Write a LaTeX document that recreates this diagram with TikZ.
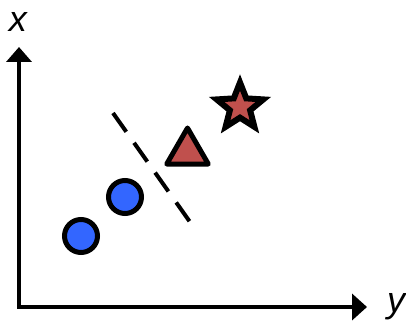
\documentclass[tikz,border=0pt]{standalone}
\definecolor{dotblue}{RGB}{51, 102, 255}
\definecolor{markred}{RGB}{192, 80, 77}
\usepackage{fontspec}
\setmainfont{Liberation Sans}
\usepackage{tikz}
\usetikzlibrary{arrows.meta, positioning, shapes.geometric}

\tikzset{
  sample/.style={circle, fill=dotblue, draw=black, line width=5pt,
                 minimum size=33pt, inner sep=0pt},
  axislabel/.style={anchor=base, inner sep=0pt, font=\fontsize{36}{40}\selectfont\itshape}
}

\begin{document}
\begin{tikzpicture}[x=1pt, y=-1pt]
    \useasboundingbox (0,0) rectangle (406,323);
    % axes
    \coordinate (origin) at (19,307);
    \coordinate (xtip) at (19,47);
    \coordinate (ytip) at (367,307);
    \draw[line width=4pt, {Triangle[width=25pt,length=15pt]}-{Triangle[width=26pt,length=15pt]}]
        (xtip) -- (origin) -- (ytip);
    \node[axislabel] (xlab) at (18,32) {x};
    \node[axislabel] (ylab) at (396,312) {y};
    % points
    \node[sample] (p1) at (81,236) {};
    \node[sample] (p2) at (125,197) {};
    \node[regular polygon, regular polygon sides=3, fill=markred, draw=black,
          line width=5pt, line join=round, minimum size=48pt, inner sep=0pt] (query) at (187.5,152) {};
    \node[star, star points=5, star point ratio=2.3, fill=markred, draw=black,
          line width=6pt, minimum size=49pt, inner sep=0pt] (target) at (240,107) {};
    % boundary
    \coordinate (b1) at (113,113);
    \coordinate (b2) at (190,222);
    \draw[line width=4pt, dash pattern=on 23pt off 13.5pt] (b1) -- (b2);
\end{tikzpicture}
\end{document}
